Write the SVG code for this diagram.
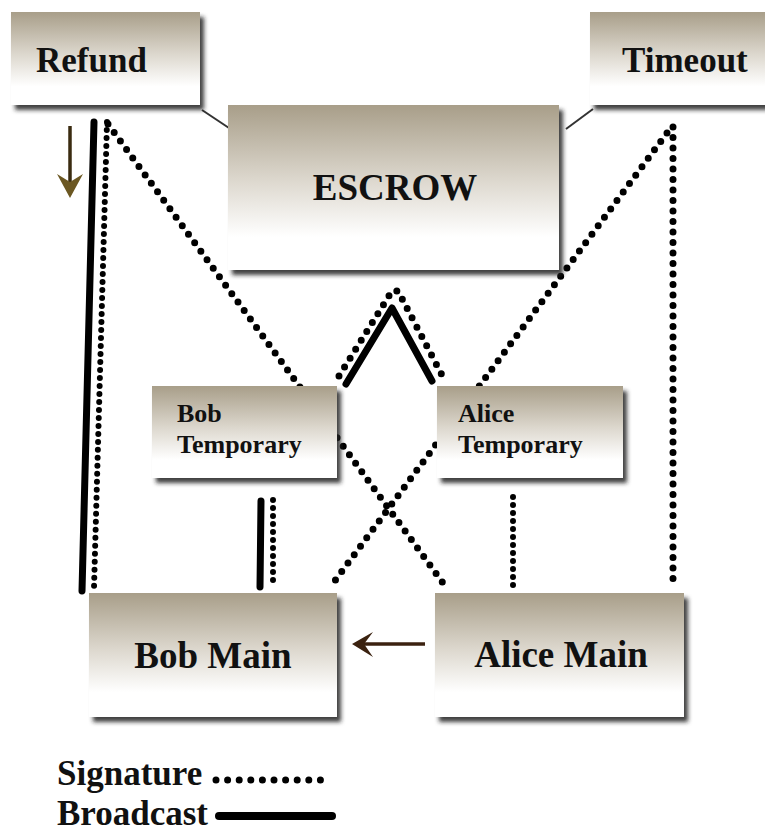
<svg xmlns="http://www.w3.org/2000/svg" width="765" height="833" viewBox="0 0 765 833">
<defs>
<linearGradient id="boxGrad" x1="0" y1="0" x2="0" y2="1">
<stop offset="0" stop-color="#a89e89"/>
<stop offset="0.45" stop-color="#dcd7cd"/>
<stop offset="0.8" stop-color="#ffffff"/>
<stop offset="1" stop-color="#ffffff"/>
</linearGradient>
<filter id="shadow" x="-10%" y="-10%" width="130%" height="130%">
<feDropShadow dx="4" dy="5" stdDeviation="2.2" flood-color="#1a1a1a" flood-opacity="0.85"/>
</filter>
</defs>
<style>
.box{fill:url(#boxGrad);filter:url(#shadow);}
.lbl{font-family:"Liberation Serif","Times New Roman",serif;font-weight:bold;fill:#111;}
.big{font-size:37px;}
.mid{font-size:35px;}
.small{font-size:26px;}
.sig{fill:none;stroke:#000;stroke-width:7;stroke-linecap:round;stroke-dasharray:0 10.5;}
.sigd{fill:none;stroke:#000;stroke-width:6;stroke-linecap:round;stroke-dasharray:0 8;}
.bc{fill:none;stroke:#000;stroke-width:7;stroke-linecap:round;stroke-linejoin:round;}
.thin{fill:none;stroke:#333;stroke-width:2;}
</style>
<rect width="765" height="833" fill="#ffffff"/>
<g id="connectors">
<line class="thin" x1="202" y1="110" x2="229" y2="128"/>
<line class="thin" x1="593" y1="109" x2="566" y2="129"/>
<line class="bc" x1="94" y1="122" x2="82" y2="591"/>
<line class="sigd" x1="107" y1="122" x2="94" y2="588"/>
<line class="sig" x1="108" y1="124" x2="443" y2="583"/>
<line class="sig" x1="673" y1="127" x2="673" y2="588"/>
<line class="sig" x1="667" y1="133" x2="331" y2="586"/>
<line class="bc" x1="261" y1="501" x2="260" y2="587"/>
<line class="sigd" x1="273" y1="500" x2="273" y2="587"/>
<line class="sigd" x1="513" y1="497" x2="513" y2="586"/>
<polyline class="bc" points="346,384 392,308 432,381"/>
<polyline class="sig" points="339,376 392,291 398,291 443,377"/>
<g id="arrow-refund">
<line x1="70" y1="126" x2="70" y2="184" stroke="#3a2b10" stroke-width="3.5"/>
<path d="M57,174 L70,198 L83,174 L70,182 Z" fill="#6b5722"/>
</g>
<g id="arrow-alice-bob">
<line x1="425" y1="644" x2="362" y2="644" stroke="#3b2210" stroke-width="3.5"/>
<path d="M352,644 L373,632 L364,644 L373,657 Z" fill="#3b2210"/>
</g>
</g>
<g id="refund">
<rect class="box" x="11" y="12" width="189" height="93"/>
<text class="lbl mid" x="36" y="72">Refund</text>
</g>
<g id="timeout">
<rect class="box" x="590" y="12" width="185" height="93"/>
<text class="lbl mid" x="622" y="72">Timeout</text>
</g>
<g id="escrow">
<rect class="box" x="228" y="105" width="331" height="165"/>
<text class="lbl big" x="395" y="200" text-anchor="middle">ESCROW</text>
</g>
<g id="bob-temporary">
<rect class="box" x="152" y="386" width="185" height="92"/>
<text class="lbl small" x="177" y="422">Bob</text>
<text class="lbl small" x="177" y="453">Temporary</text>
</g>
<g id="alice-temporary">
<rect class="box" x="437" y="386" width="186" height="92"/>
<text class="lbl small" x="458" y="422">Alice</text>
<text class="lbl small" x="458" y="453">Temporary</text>
</g>
<g id="bob-main">
<rect class="box" x="89" y="593" width="248" height="124"/>
<text class="lbl big" x="213" y="668" text-anchor="middle">Bob Main</text>
</g>
<g id="alice-main">
<rect class="box" x="435" y="593" width="249" height="124"/>
<text class="lbl big" x="561" y="667" text-anchor="middle">Alice Main</text>
</g>
<g id="legend">
<text class="lbl mid" x="57" y="785">Signature</text>
<line x1="216" y1="780" x2="332" y2="780" stroke="#000" stroke-width="7" stroke-linecap="round" stroke-dasharray="0 11.6"/>
<text class="lbl mid" x="57" y="825">Broadcast</text>
<line x1="219" y1="816" x2="332" y2="816" stroke="#000" stroke-width="8" stroke-linecap="round"/>
</g>
</svg>
